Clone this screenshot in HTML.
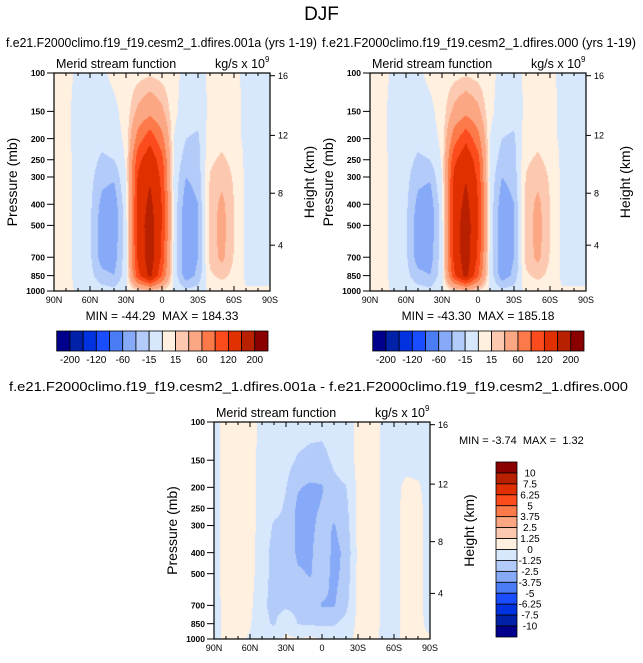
<!DOCTYPE html>
<html><head><meta charset="utf-8"><style>
body{margin:0;background:#fff;width:643px;height:663px;position:relative;overflow:hidden;font-family:"Liberation Sans",sans-serif}
canvas{position:absolute}
svg{position:absolute;left:0;top:0}
</style></head><body>
<canvas id="c1"></canvas>
<canvas id="c2"></canvas>
<canvas id="c3"></canvas>
<svg id="s" width="643" height="663"></svg>
<script>
const lats=[90,80,70,60,50,40,30,20,10,0,-10,-20,-30,-40,-50,-60,-70,-80,-90];
const plevs=[100,150,200,250,300,400,500,700,850,1000];
const psiA=[
[3,3,-2,-3,-2,3,5,8,12,8,3,-3,-4,2,3,2,-2,-2,-2],
[3,2,-3,-6,-6,-3,5,35,50,35,3,-6,-8,3,5,3,-2,-2,-2],
[3,2,-3,-8,-10,-6,3,75,110,70,0,-15,-18,8,10,5,-3,-3,-3],
[3,2,-2,-8,-18,-15,2,110,145,100,-3,-22,-20,12,18,10,-3,-3,-3],
[3,2,-2,-10,-25,-28,0,125,155,112,-5,-30,-24,16,25,13,-3,-3,-3],
[3,2,-2,-12,-35,-40,-5,130,172,118,-5,-40,-30,20,35,15,-3,-3,-3],
[3,2,-2,-12,-40,-42,-6,132,184,118,-5,-44,-30,20,38,15,-3,-3,-3],
[3,2,-2,-12,-38,-38,-6,128,184,112,-5,-44,-30,20,35,14,-2,-2,-2],
[3,2,-2,-10,-25,-30,-6,110,172,90,-5,-40,-26,12,20,10,-2,-2,-2],
[2,2,-1,-3,-8,-10,-3,10,20,10,-3,-10,-8,3,3,2,1,1,1]];
const psiB=[
[3,3,-2,-3,-2,3,5,8,12,8,3,-3,-4,2,3,2,-2,-2,-2],
[3,2,-3,-6,-6,-3,5,36,51,36,3,-6,-8,3,5,3,-2,-2,-2],
[3,2,-3,-8,-10,-6,3,77,112,72,0,-15,-18,8,10,5,-3,-3,-3],
[3,2,-2,-8,-18,-15,2,112,147,102,-3,-22,-20,12,18,10,-3,-3,-3],
[3,2,-2,-10,-25,-28,0,127,157,114,-5,-30,-24,16,25,13,-3,-3,-3],
[3,2,-2,-12,-35,-40,-5,132,174,120,-5,-40,-30,20,35,15,-3,-3,-3],
[3,2,-2,-12,-40,-42,-6,134,185,120,-5,-43,-30,20,38,15,-3,-3,-3],
[3,2,-2,-12,-38,-38,-6,130,185,114,-5,-43,-30,20,35,14,-2,-2,-2],
[3,2,-2,-10,-25,-30,-6,112,174,92,-5,-40,-26,12,20,10,-2,-2,-2],
[2,2,-1,-3,-8,-10,-3,10,20,10,-3,-10,-8,3,3,2,1,1,1]];
const psiDiff=[
[-0.5,0.5,0.5,0.5,-0.3,-0.5,-0.5,-0.6,-0.8,-0.8,-0.6,-0.5,0.3,0.4,-0.1,-0.3,-0.3,-0.3,-0.3],
[-0.5,0.5,0.6,0.5,-0.5,-0.6,-0.8,-1.4,-1.6,-1.7,-1.0,-0.6,0.3,0.4,-0.1,-0.3,-0.3,-0.3,-0.3],
[-0.5,0.5,0.6,0.5,-0.5,-0.8,-1.2,-2.4,-2.7,-2.6,-1.6,-1.3,0.3,0.4,-0.1,-0.3,0.2,0.1,-0.3],
[-0.5,0.5,0.6,0.5,-0.5,-0.9,-1.4,-2.8,-2.8,-2.4,-2.0,-1.6,0.3,0.4,-0.1,-0.3,0.3,0.2,-0.3],
[-0.5,0.5,0.6,0.5,-0.5,-1.4,-1.5,-2.9,-2.9,-2.0,-2.6,-1.8,0.3,0.4,-0.1,-0.3,0.3,0.2,-0.3],
[-0.5,0.5,0.8,0.5,-0.8,-1.6,-1.5,-2.8,-2.8,-1.5,-2.9,-2.2,0.3,0.4,-0.1,-0.3,0.3,0.2,-0.3],
[-0.5,0.5,0.8,0.5,-0.8,-1.6,-1.4,-2.3,-2.6,-1.8,-2.9,-2.0,0.3,0.4,-0.1,-0.3,0.3,0.2,-0.3],
[-0.5,0.4,0.4,0.3,-1.0,-1.6,-1.5,-1.6,-1.8,-2.6,-2.6,-1.6,0.3,0.4,-0.1,-0.3,0.3,0.2,-0.3],
[-0.5,0.3,0.3,0.1,-0.9,-1.4,-0.3,-1.3,-1.4,-1.5,-1.4,-0.8,0.3,0.4,-0.1,-0.3,0.3,0.2,-0.2],
[-0.3,0.2,0.2,-0.1,-0.5,-0.4,0.2,0.1,0.2,0.1,-0.2,-0.2,0.2,0.3,-0.1,-0.2,0.2,0.1,0.1]];
const levelsMain=[-200,-160,-120,-90,-60,-30,-15,0,15,30,60,90,120,160,200];
const labelsMain=["-200","-120","-60","-15","15","60","120","200"];
const levelsDiff=[-10,-7.5,-6.25,-5,-3.75,-2.5,-1.25,0,1.25,2.5,3.75,5,6.25,7.5,10];
const labelsDiff=["-10","-7.5","-6.25","-5","-3.75","-2.5","-1.25","0","1.25","2.5","3.75","5","6.25","7.5","10"];
const colors=["#00008c","#0021a8","#0032e0","#1a4dff","#4a7df5","#86aaf7","#b3cbf9","#d7e7fc","#fff0e0","#fcc9b0","#fca783","#fc7a49","#fc4b1c","#e03000","#b82000","#8a0000"];
const xTicks=[90,60,30,0,-30,-60,-90];
const xTickLabels=["90N","60N","30N","0","30S","60S","90S"];
const pTicks=[100,150,200,250,300,400,500,700,850,1000];
const zTicks=[4,8,12,16];

const NS="http://www.w3.org/2000/svg";
const svg=document.getElementById('s');
function el(tag,attrs,text){const e=document.createElementNS(NS,tag);for(const k in attrs)e.setAttribute(k,attrs[k]);if(text!==undefined)e.textContent=text;svg.appendChild(e);return e;}
function xScale(P,lat){return P.x+(90-lat)/180*P.w;}
function yScale(P,p){return P.y+Math.log10(p/100)*P.h;}
function zToP(z){const m=z*1000;return m<=11000?1013.25*Math.pow(1-2.25577e-5*m,5.2559):226.32*Math.exp(-(m-11000)/6341.6);}
function sample(data,lat,p){
  let fx=(90-lat)/10;let i=Math.min(Math.floor(fx),17);let tx=fx-i;
  let lp=Math.log(p);let j=0;while(j<plevs.length-2&&lp>Math.log(plevs[j+1]))j++;
  let ty=(lp-Math.log(plevs[j]))/(Math.log(plevs[j+1])-Math.log(plevs[j]));
  ty=Math.max(0,Math.min(1,ty));
  const a=data[j][i],b=data[j][i+1],c=data[j+1][i],d=data[j+1][i+1];
  return (a*(1-tx)+b*tx)*(1-ty)+(c*(1-tx)+d*tx)*ty;}
function colorIdx(v,lv){let k=0;while(k<lv.length&&v>=lv[k])k++;return k;}
function hex(h){return [parseInt(h.substr(1,2),16),parseInt(h.substr(3,2),16),parseInt(h.substr(5,2),16)];}
const rgb=colors.map(hex);
function fill(id,P,data,lv){
  const c=document.getElementById(id);c.width=P.w;c.height=P.h;c.style.left=P.x+'px';c.style.top=P.y+'px';
  const ctx=c.getContext('2d');const img=ctx.createImageData(P.w,P.h);
  for(let py=0;py<P.h;py++){const p=100*Math.pow(10,(py+0.5)/P.h);
    for(let px=0;px<P.w;px++){const lat=90-(px+0.5)/P.w*180;const v=sample(data,lat,p);
      const col=rgb[colorIdx(v,lv)];const o=(py*P.w+px)*4;img.data[o]=col[0];img.data[o+1]=col[1];img.data[o+2]=col[2];img.data[o+3]=255;}}
  ctx.putImageData(img,0,0);}
function axes(P,name){
  el('rect',{x:P.x,y:P.y,width:P.w,height:P.h,fill:'none',stroke:'#000','stroke-width':1.2,});
  for(let lat=90;lat>=-90;lat-=10){const x=xScale(P,lat);const L=(lat%30===0)?5:3;
    el('line',{x1:x,y1:P.y+P.h,x2:x,y2:P.y+P.h-L,stroke:'#000','stroke-width':1});
    el('line',{x1:x,y1:P.y,x2:x,y2:P.y+L,stroke:'#000','stroke-width':1});}
  xTicks.forEach((lat,k)=>{el('text',{x:xScale(P,lat),y:P.y+P.h+12,'font-size':9,'text-anchor':'middle',},xTickLabels[k]);});
  pTicks.forEach(p=>{const y=yScale(P,p);el('line',{x1:P.x-7,y1:y,x2:P.x,y2:y,stroke:'#000','stroke-width':1});
    el('text',{x:P.x-9,y:y+3.2,'font-size':8.5,'font-weight':'bold','text-anchor':'end',},String(p));});
  zTicks.forEach(z=>{const y=yScale(P,zToP(z));el('line',{x1:P.x+P.w,y1:y,x2:P.x+P.w+5,y2:y,stroke:'#000','stroke-width':1});
    el('text',{x:P.x+P.w+8,y:y+3.2,'font-size':9,},String(z));});
  el('text',{x:P.x+2,y:P.y-5,'font-size':12.5,},'Merid stream function');
  el('text',{x:P.x+P.w-5,y:P.y-5,'font-size':12.5,'text-anchor':'end',},'kg/s x 10');
  el('text',{x:P.x+P.w-5,y:P.y-11,'font-size':8},'9');
  el('text',{x:P.x-37,y:P.y+P.h/2,'font-size':14,'text-anchor':'middle',transform:`rotate(-90 ${P.x-37} ${P.y+P.h/2})`,},'Pressure (mb)');
  el('text',{x:P.x+P.w+44,y:P.y+P.h/2,'font-size':14,'text-anchor':'middle',transform:`rotate(-90 ${P.x+P.w+44} ${P.y+P.h/2})`,},'Height (km)');
}
function hbar(x,y,w,h,name){const bw=w/16;
  for(let k=0;k<16;k++){const r=el('rect',{x:x+k*bw,y:y,width:bw,height:h,fill:colors[k],stroke:'#000','stroke-width':0.8});
    }
  labelsMain.forEach((t,k)=>{el('text',{x:x+(2*k+1)*bw,y:y+h+12,'font-size':10,'text-anchor':'middle',},t);});}

const P1={x:54,y:73,w:216,h:218},P2={x:370,y:73,w:216,h:218},P3={x:214,y:422,w:216,h:217};
fill('c1',P1,psiA,levelsMain);fill('c2',P2,psiB,levelsMain);fill('c3',P3,psiDiff,levelsDiff);
axes(P1,'left-plot');axes(P2,'right-plot');axes(P3,'diff-plot');
el('text',{x:321.5,y:20,'font-size':19,'text-anchor':'middle',},'DJF');
el('text',{x:6,y:47,'font-size':13,textLength:311,lengthAdjust:'spacingAndGlyphs',},'f.e21.F2000climo.f19_f19.cesm2_1.dfires.001a (yrs 1-19)');
el('text',{x:322,y:47,'font-size':13,textLength:314,lengthAdjust:'spacingAndGlyphs',},'f.e21.F2000climo.f19_f19.cesm2_1.dfires.000 (yrs 1-19)');
el('text',{x:162,y:320,'font-size':12,'text-anchor':'middle','style':'white-space:pre',},'MIN = -44.29  MAX = 184.33');
el('text',{x:478,y:320,'font-size':12,'text-anchor':'middle','style':'white-space:pre',},'MIN = -43.30  MAX = 185.18');
hbar(56.7,331,211.3,20,'left-colorbar');hbar(372.7,331,211.3,20,'right-colorbar');
el('text',{x:9,y:391,'font-size':13,textLength:619,lengthAdjust:'spacingAndGlyphs',},'f.e21.F2000climo.f19_f19.cesm2_1.dfires.001a - f.e21.F2000climo.f19_f19.cesm2_1.dfires.000');
el('text',{x:459,y:444,'font-size':11,'style':'white-space:pre',},'MIN = -3.74  MAX =  1.32');
(function(){const x=496,y=462,w=21,h=175,bh=h/16;
  for(let k=0;k<16;k++){const r=el('rect',{x:x,y:y+k*bh,width:w,height:bh,fill:colors[15-k],stroke:'#000','stroke-width':0.8});
    }
  for(let k=0;k<15;k++){el('text',{x:530,y:y+(k+1)*bh+3.5,'font-size':10,'text-anchor':'middle',},labelsDiff[14-k]);}
})();
</script>
</body></html>
